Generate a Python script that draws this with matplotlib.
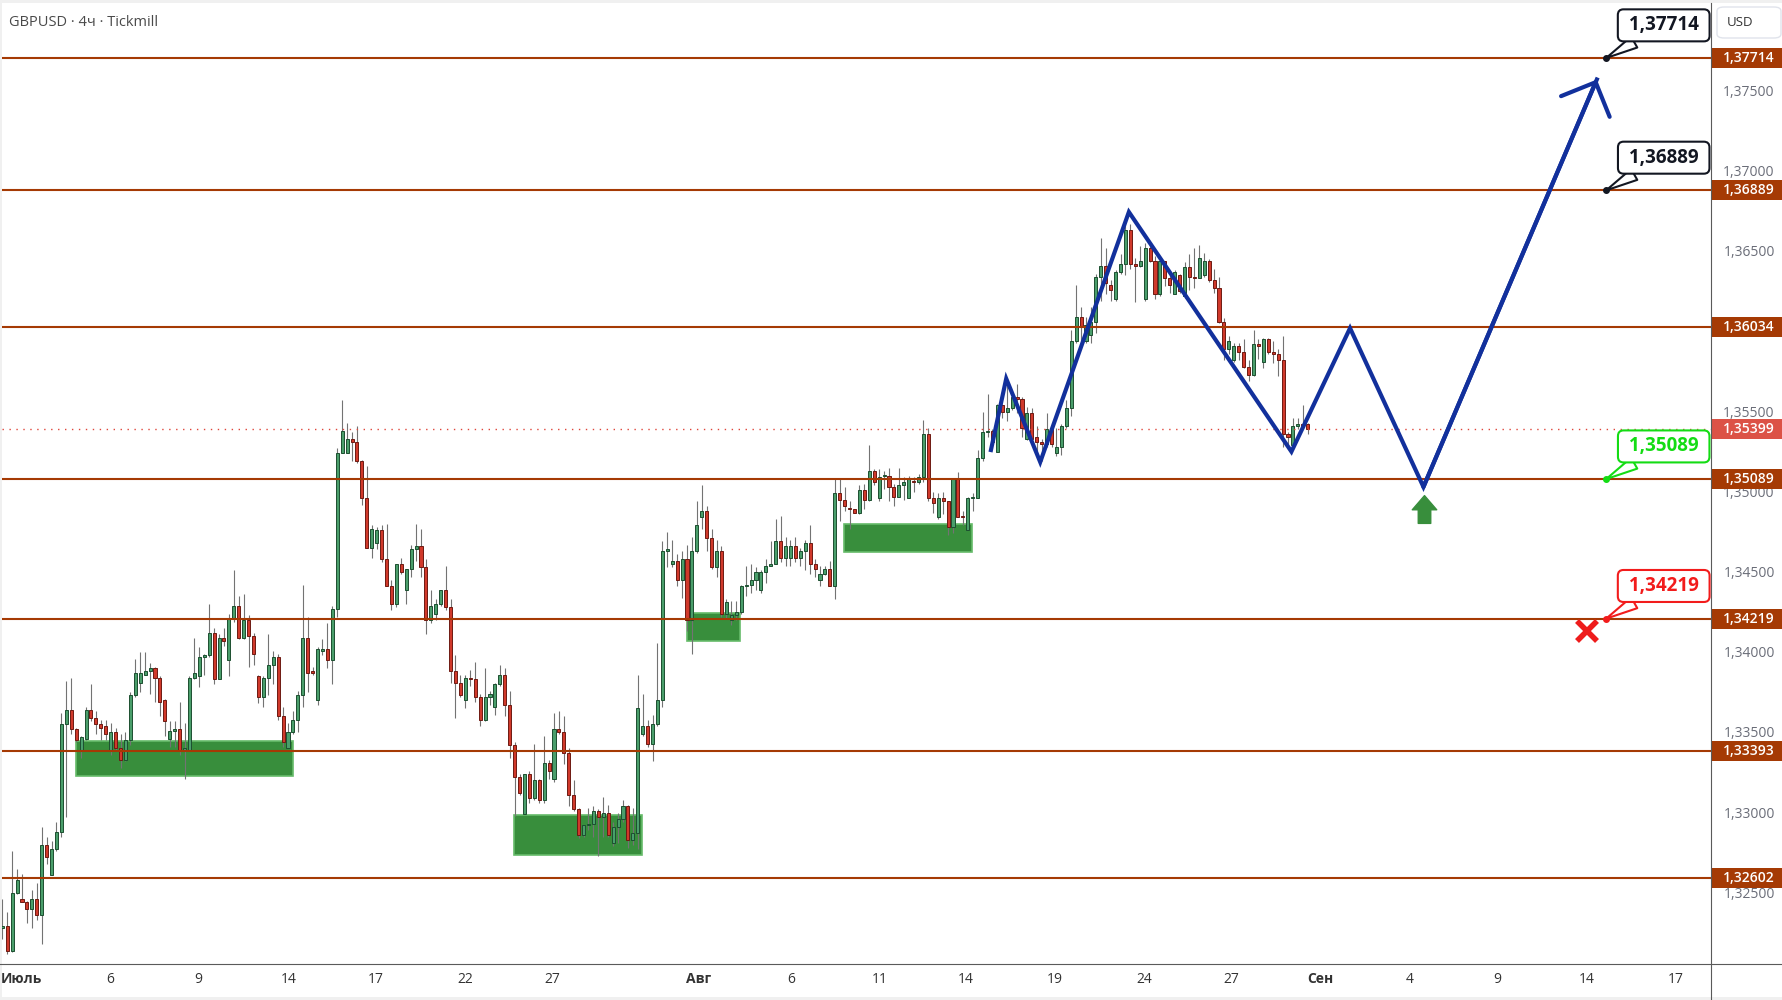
import numpy as np
import matplotlib.pyplot as plt
from matplotlib.path import Path
from matplotlib.patches import Rectangle, FancyBboxPatch
from matplotlib.lines import Line2D
from matplotlib import transforms

plt.rcParams['font.family'] = ['Open Sans', 'DejaVu Sans']

# GBPUSD 4h candles, prices in pips (price * 10000)
opens = [13229, 13230, 13215, 13251, 13247, 13245, 13241, 13247, 13237, 13281,
         13262, 13278, 13289, 13356, 13365, 13353, 13340, 13347, 13365, 13360,
         13356, 13355, 13340, 13351, 13341, 13334, 13346, 13374, 13382, 13387,
         13389, 13391, 13385, 13371, 13347, 13352, 13353, 13340, 13340, 13385,
         13386, 13398, 13399, 13413, 13384, 13410, 13396, 13422, 13430, 13410,
         13421, 13411, 13386, 13373, 13385, 13393, 13398, 13361, 13341, 13351,
         13359, 13374, 13410, 13389, 13371, 13402, 13403, 13396, 13428, 13525,
         13525, 13534, 13532, 13520, 13497, 13466, 13469, 13477, 13459, 13442,
         13431, 13456, 13440, 13453, 13465, 13467, 13454, 13421, 13425, 13431,
         13440, 13429, 13389, 13382, 13371, 13385, 13384, 13373, 13359, 13373,
         13367, 13381, 13387, 13368, 13343, 13323, 13300, 13325, 13310, 13321,
         13309, 13332, 13322, 13353, 13351, 13338, 13312, 13303, 13287, 13293,
         13294, 13302, 13298, 13301, 13282, 13292, 13297, 13305, 13284, 13288,
         13350, 13355, 13344, 13356, 13371, 13464, 13456, 13458, 13446, 13459,
         13421, 13464, 13485, 13489, 13472, 13454, 13464, 13425, 13421, 13424,
         13426, 13442, 13443, 13446, 13440, 13451, 13455, 13456, 13470, 13460,
         13460, 13467, 13460, 13464, 13469, 13456, 13446, 13450, 13453, 13442,
         13500, 13496, 13491, 13490, 13488, 13502, 13496, 13514, 13497, 13511,
         13511, 13504, 13498, 13505, 13497, 13508, 13507, 13510, 13537, 13497,
         13485, 13497, 13495, 13479, 13509, 13486, 13477, 13497, 13497, 13522,
         13538, 13539, 13526, 13555, 13551, 13553, 13560, 13559, 13534, 13550,
         13535, 13532, 13531, 13540, 13525, 13529, 13542, 13553, 13595, 13610,
         13595, 13599, 13607, 13635, 13642, 13630, 13621, 13638, 13643, 13664,
         13643, 13642, 13621, 13653, 13645, 13624, 13645, 13634, 13624, 13636,
         13623, 13641, 13635, 13634, 13636, 13645, 13633, 13628, 13607, 13590,
         13583, 13592, 13588, 13579, 13574, 13593, 13582, 13596, 13588, 13587,
         13583, 13537, 13530, 13542, 13543, 13543]
highs = [13247, 13239, 13277, 13266, 13263, 13246, 13253, 13257, 13292, 13286,
         13283, 13295, 13363, 13383, 13385, 13354, 13349, 13367, 13381, 13364,
         13359, 13359, 13357, 13354, 13350, 13351, 13376, 13397, 13401, 13401,
         13394, 13392, 13386, 13372, 13358, 13358, 13370, 13357, 13386, 13410,
         13404, 13400, 13431, 13416, 13412, 13416, 13425, 13452, 13436, 13437,
         13424, 13413, 13387, 13386, 13412, 13402, 13400, 13367, 13357, 13364,
         13377, 13443, 13423, 13392, 13404, 13409, 13419, 13430, 13528, 13558,
         13544, 13538, 13542, 13521, 13517, 13480, 13479, 13480, 13481, 13446,
         13456, 13460, 13453, 13468, 13481, 13478, 13459, 13440, 13434, 13440,
         13455, 13434, 13399, 13387, 13387, 13390, 13395, 13375, 13391, 13377,
         13382, 13393, 13391, 13377, 13345, 13325, 13325, 13327, 13344, 13322,
         13349, 13334, 13363, 13364, 13361, 13341, 13321, 13304, 13293, 13304,
         13305, 13303, 13311, 13306, 13295, 13301, 13309, 13306, 13304, 13387,
         13375, 13359, 13362, 13407, 13470, 13476, 13471, 13462, 13464, 13468,
         13473, 13495, 13505, 13492, 13478, 13471, 13467, 13434, 13433, 13433,
         13443, 13455, 13456, 13454, 13452, 13459, 13470, 13484, 13486, 13473,
         13471, 13473, 13466, 13471, 13480, 13459, 13455, 13455, 13458, 13509,
         13509, 13504, 13495, 13490, 13505, 13506, 13530, 13515, 13515, 13514,
         13516, 13506, 13516, 13510, 13511, 13510, 13512, 13546, 13541, 13501,
         13500, 13501, 13495, 13509, 13513, 13489, 13498, 13500, 13527, 13551,
         13562, 13540, 13556, 13556, 13571, 13562, 13568, 13560, 13554, 13553,
         13542, 13534, 13550, 13541, 13541, 13543, 13558, 13602, 13630, 13616,
         13610, 13616, 13637, 13659, 13653, 13633, 13639, 13649, 13671, 13668,
         13647, 13654, 13656, 13655, 13648, 13645, 13645, 13636, 13639, 13637,
         13644, 13649, 13653, 13655, 13650, 13646, 13640, 13635, 13609, 13598,
         13594, 13594, 13596, 13583, 13602, 13596, 13597, 13597, 13595, 13590,
         13598, 13538, 13547, 13547, 13555, 13544]
lows = [13222, 13213, 13214, 13250, 13245, 13232, 13229, 13234, 13219, 13269,
        13262, 13277, 13286, 13298, 13350, 13345, 13335, 13346, 13358, 13350,
        13346, 13346, 13337, 13340, 13329, 13333, 13343, 13373, 13376, 13387,
        13375, 13370, 13361, 13349, 13342, 13342, 13337, 13322, 13340, 13384,
        13379, 13387, 13398, 13381, 13384, 13405, 13386, 13420, 13409, 13409,
        13392, 13393, 13369, 13367, 13374, 13381, 13359, 13342, 13341, 13350,
        13351, 13367, 13376, 13387, 13368, 13399, 13391, 13381, 13423, 13525,
        13525, 13520, 13519, 13493, 13466, 13460, 13465, 13457, 13442, 13427,
        13429, 13450, 13431, 13448, 13458, 13448, 13412, 13419, 13421, 13430,
        13427, 13382, 13360, 13373, 13366, 13380, 13370, 13355, 13358, 13368,
        13362, 13380, 13361, 13335, 13299, 13312, 13300, 13307, 13309, 13307,
        13307, 13322, 13320, 13350, 13331, 13305, 13302, 13285, 13286, 13290,
        13286, 13274, 13286, 13286, 13280, 13282, 13295, 13279, 13281, 13278,
        13349, 13342, 13333, 13355, 13367, 13454, 13454, 13442, 13435, 13414,
        13400, 13463, 13478, 13464, 13453, 13448, 13423, 13422, 13418, 13421,
        13425, 13436, 13438, 13440, 13438, 13444, 13455, 13456, 13457, 13455,
        13455, 13457, 13455, 13452, 13450, 13448, 13442, 13449, 13442, 13434,
        13483, 13489, 13478, 13488, 13487, 13490, 13495, 13505, 13495, 13503,
        13495, 13492, 13498, 13496, 13497, 13501, 13506, 13507, 13495, 13488,
        13484, 13487, 13474, 13475, 13485, 13480, 13477, 13489, 13497, 13520,
        13535, 13531, 13526, 13547, 13545, 13552, 13550, 13535, 13533, 13531,
        13523, 13520, 13529, 13529, 13523, 13524, 13541, 13548, 13594, 13595,
        13594, 13594, 13600, 13620, 13624, 13620, 13620, 13637, 13636, 13640,
        13619, 13641, 13620, 13644, 13621, 13623, 13629, 13625, 13624, 13625,
        13622, 13627, 13628, 13634, 13635, 13632, 13625, 13606, 13583, 13587,
        13582, 13583, 13578, 13570, 13573, 13584, 13578, 13587, 13581, 13573,
        13529, 13529, 13530, 13540, 13541, 13537]
closes = [13230, 13215, 13251, 13259, 13245, 13241, 13247, 13237, 13281, 13273,
          13278, 13289, 13356, 13365, 13353, 13346, 13348, 13365, 13360, 13356,
          13354, 13350, 13351, 13341, 13334, 13346, 13374, 13388, 13388, 13389,
          13391, 13385, 13370, 13358, 13352, 13353, 13340, 13341, 13385, 13388,
          13398, 13399, 13413, 13384, 13410, 13408, 13422, 13430, 13410, 13421,
          13411, 13400, 13373, 13385, 13393, 13398, 13361, 13345, 13351, 13359,
          13374, 13410, 13388, 13388, 13403, 13403, 13396, 13428, 13525, 13539,
          13534, 13532, 13520, 13497, 13466, 13478, 13477, 13459, 13442, 13431,
          13456, 13451, 13453, 13465, 13467, 13454, 13421, 13430, 13431, 13440,
          13429, 13389, 13382, 13374, 13385, 13384, 13373, 13359, 13373, 13375,
          13381, 13387, 13368, 13343, 13323, 13313, 13325, 13310, 13321, 13309,
          13332, 13327, 13353, 13351, 13338, 13312, 13303, 13287, 13293, 13294,
          13302, 13298, 13301, 13287, 13292, 13297, 13305, 13284, 13288, 13366,
          13355, 13344, 13356, 13371, 13464, 13465, 13458, 13446, 13459, 13421,
          13464, 13480, 13489, 13472, 13454, 13464, 13425, 13432, 13424, 13426,
          13442, 13443, 13446, 13451, 13451, 13455, 13456, 13470, 13460, 13467,
          13467, 13460, 13464, 13469, 13456, 13453, 13450, 13453, 13442, 13500,
          13496, 13492, 13490, 13488, 13502, 13496, 13514, 13507, 13510, 13511,
          13504, 13498, 13505, 13507, 13509, 13507, 13510, 13537, 13497, 13494,
          13497, 13495, 13479, 13509, 13485, 13485, 13497, 13498, 13522, 13538,
          13539, 13532, 13555, 13551, 13553, 13560, 13559, 13541, 13550, 13534,
          13532, 13531, 13540, 13531, 13529, 13542, 13553, 13595, 13610, 13604,
          13605, 13607, 13635, 13642, 13631, 13627, 13638, 13643, 13664, 13643,
          13642, 13645, 13653, 13645, 13624, 13645, 13634, 13630, 13638, 13626,
          13641, 13635, 13634, 13647, 13645, 13633, 13628, 13607, 13590, 13595,
          13592, 13588, 13579, 13574, 13593, 13592, 13596, 13588, 13587, 13583,
          13537, 13535, 13542, 13543, 13542, 13540]

levels = [1.37714, 1.36889, 1.36034, 1.35089, 1.34219, 1.33393, 1.32602]
last_price = 1.35399
# 1,36000 sits fully under the 1,36034 label, so it is not listed
price_ticks = [1.325, 1.330, 1.335, 1.340, 1.345, 1.350, 1.355, 1.365, 1.370, 1.375]

date_pos = [3.8, 21.9, 39.7, 58.2, 75.9, 93.9, 111.6, 141.4, 160.1, 178.2,
            195.6, 213.7, 231.9, 249.5, 267.5, 285.8, 303.4, 321.7, 339.8]
date_labels = ['Июль', '6', '9', '14', '17', '22', '27', 'Авг', '6', '11',
               '14', '19', '24', '27', 'Сен', '4', '9', '14', '17']
month_names = ['Июль', 'Авг', 'Сен']

# demand zones (bar index range, price range)
zone_start = [15.0, 103.9, 138.9, 170.9]
zone_end = [59.0, 129.9, 149.8, 196.9]
zone_top = [1.33456, 1.32995, 1.34252, 1.34807]
zone_bottom = [1.33238, 1.32745, 1.34078, 1.34632]

# projected path
zig_x = [200.7, 203.8, 210.7, 228.7, 261.7, 273.6, 288.5, 323.7]
zig_y = [1.35270, 1.35715, 1.35195, 1.36754, 1.35260, 1.36030, 1.35040, 1.37580]

# callouts: level, colour
callout_bar = 325.6
callout_levels = [1.37714, 1.36889, 1.35089, 1.34219]
callout_colors = ['#131722', '#131722', '#14dc14', '#f21c1c']

buy_x, buy_y = 288.7, 1.34902
stop_x, stop_y = 321.8, 1.34144

# ---------------------------------------------------------------
o = np.array(opens) / 1e4
h = np.array(highs) / 1e4
l = np.array(lows) / 1e4
c = np.array(closes) / 1e4
x = np.arange(len(o))

W, H = 1783, 1000
fig = plt.figure(figsize=(W / 100, H / 100), dpi=100, facecolor='#f0f0f0')
fig.patches.append(Rectangle((2 / W, 3 / H), 1 - 2 / W, 1 - 6 / H, transform=fig.transFigure,
                             facecolor='white', edgecolor='none', zorder=-5))

ax_l, ax_r, ax_t, ax_b = 2, 1711, 3, 964
ax = fig.add_axes([ax_l / W, 1 - ax_b / H, (ax_r - ax_l) / W, (ax_b - ax_t) / H])
ax.set_facecolor('none')
ax.set_zorder(1)

px_per_price = 16041.0
bar_px = 4.926
ax.set_ylim(1.32602 - (ax_b - 878) / px_per_price, 1.32602 + (878 - ax_t) / px_per_price)
ax.set_xlim((ax_l - 2.3) / bar_px, (ax_r - 2.3) / bar_px)
for s in ax.spines.values():
    s.set_visible(False)

level_col = '#a53a04'

# zones
for x0, x1, y0, y1 in zip(zone_start, zone_end, zone_bottom, zone_top):
    ax.add_patch(Rectangle((x0, y0), x1 - x0, y1 - y0, facecolor='#388e3c',
                           edgecolor='#66bb6a', lw=1.2, zorder=1))

# candles
up = c >= o
ax.vlines(x, l, h, color='#737373', lw=0.8, zorder=3)
body_lo = np.minimum(o, c)
body_h = np.maximum(np.abs(c - o), 0.000015)
ax.bar(x, body_h, bottom=body_lo, width=0.62,
       color=np.where(up, '#4a9e6b', '#d0392b'),
       edgecolor=np.where(up, '#1c4f30', '#6e1a12'), linewidth=0.7, zorder=4)

# levels
for lv in levels:
    ax.axhline(lv, color=level_col, lw=1.5, zorder=5)
ax.axhline(last_price, color='#e0453a', lw=1, ls=(0, (1, 4)), zorder=5)

# zigzag + arrow
blue = '#12309c'
ax.plot(zig_x, zig_y, color=blue, lw=3, solid_joinstyle='miter', zorder=6)
ax.annotate('', xy=(zig_x[-1], zig_y[-1]), xytext=(zig_x[-2], zig_y[-2]),
            arrowprops=dict(arrowstyle='->,head_length=1.9,head_width=1.9', color=blue,
                            lw=3, mutation_scale=10, shrinkA=0, shrinkB=0), zorder=6)

# buy arrow and stop cross
arrow_path = Path([(-0.225, -0.5), (0.225, -0.5), (0.225, -0.01), (0.44, -0.01),
                   (0, 0.5), (-0.44, -0.01), (-0.225, -0.01), (-0.225, -0.5)],
                  [1, 2, 2, 2, 2, 2, 2, 79])
ax.plot(buy_x, buy_y, marker=arrow_path, ms=20, color='#388e3c', mec='#388e3c', zorder=7)
ax.plot(stop_x, stop_y, marker='x', ms=14.5, mew=4, color='#ee1c1c', zorder=7)

# callouts
for lv, col in zip(callout_levels, callout_colors):
    ax.plot(callout_bar, lv, 'o', ms=4, color=col, zorder=8)
    ax.annotate(' ' + f'{lv:.5f}'.replace('.', ',') + ' ', xy=(callout_bar, lv),
                xytext=(41.4, 23.5), textcoords='offset points', ha='center', va='center',
                fontsize=13.5, fontweight='bold', color=col, zorder=9, annotation_clip=False,
                bbox=dict(boxstyle='round,pad=0.32,rounding_size=0.3', fc='white', ec=col, lw=1.5),
                arrowprops=dict(arrowstyle='wedge,tail_width=0.9,shrink_factor=0.5', fc='white',
                                ec=col, lw=1.5, shrinkA=0, shrinkB=0, mutation_scale=10))

# right price scale
tr = transforms.blended_transform_factory(fig.transFigure, ax.transData)
lab_x = 1749 / W
for t in price_ticks:
    ax.text(lab_x, t, f'{t:.5f}'.replace('.', ','), transform=tr, ha='center', va='center',
            fontsize=10, color='#6a6d78', clip_on=False, zorder=10)
box_h = 20 / px_per_price
for lv in levels:
    ax.add_patch(Rectangle((1712 / W, lv - box_h / 2), 71 / W, box_h, transform=tr,
                           facecolor=level_col, edgecolor='none', clip_on=False, zorder=11))
    ax.text(lab_x, lv, f'{lv:.5f}'.replace('.', ','), transform=tr, ha='center', va='center',
            fontsize=10, fontweight='semibold', color='white', clip_on=False, zorder=12)
ax.add_patch(Rectangle((1712 / W, last_price - box_h / 2), 71 / W, box_h, transform=tr,
                       facecolor='#dc5246', edgecolor='none', clip_on=False, zorder=11))
ax.text(lab_x, last_price, f'{last_price:.5f}'.replace('.', ','), transform=tr, ha='center',
        va='center', fontsize=10, fontweight='semibold', color='white', clip_on=False, zorder=12)

# axis lines
fig.add_artist(Line2D([ax_r / W, ax_r / W], [0, 1 - ax_t / H], transform=fig.transFigure,
                      color='#5a5a5a', lw=0.8))
fig.add_artist(Line2D([0, 1], [1 - ax_b / H, 1 - ax_b / H], transform=fig.transFigure,
                      color='#5a5a5a', lw=0.8))

# date axis
ax.set_yticks([])
ax.set_xticks(date_pos)
ax.set_xticklabels(date_labels, fontsize=10, color='#333333')
ax.tick_params(axis='x', length=0, pad=6)
for lbl in ax.get_xticklabels():
    if lbl.get_text() in month_names:
        lbl.set_fontweight('bold')

# header and currency box
fig.text(9 / W, 1 - 22 / H, 'GBPUSD · 4ч · Tickmill', ha='left', va='center',
         fontsize=10.5, color='#4a4a4a')
fig.patches.append(FancyBboxPatch((1717 / W, 1 - 38 / H), 64 / W, 31 / H,
                                  boxstyle='round,pad=0,rounding_size=0.004',
                                  transform=fig.transFigure, facecolor='white',
                                  edgecolor='#e0e3eb', lw=1))
fig.text(1740 / W, 1 - 22 / H, 'USD', ha='center', va='center', fontsize=9.5, color='#333333')

fig.savefig('out.png', dpi=100, facecolor=fig.get_facecolor())
